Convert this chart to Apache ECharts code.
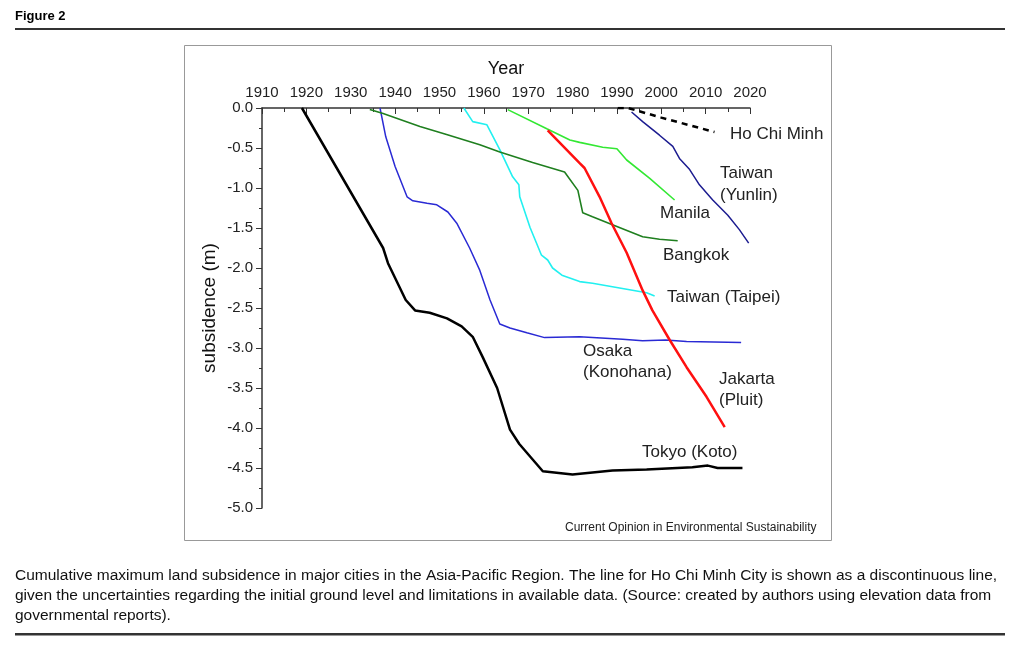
<!DOCTYPE html>
<html>
<head>
<meta charset="utf-8">
<script src="https://cdn.jsdelivr.net/npm/echarts@6/dist/echarts.min.js"></script>
<style>
  html, body { margin: 0; padding: 0; background: #fff; }
  #chart { width: 1024px; height: 660px; }
</style>
</head>
<body>
<div id="chart"></div>
<script>
// 年份刻度与 y 轴范围
const yearTicks = [1910, 1920, 1930, 1940, 1950, 1960, 1970, 1980, 1990, 2000, 2010, 2020]
const depthTicks = [0, -0.5, -1, -1.5, -2, -2.5, -3, -3.5, -4, -4.5, -5]

// 各城市累计沉降 [year, m]
const tokyo = [[1919, 0], [1937.3, -1.75], [1938.4, -1.94], [1942.4, -2.4], [1944.5, -2.53], [1947.8, -2.56],
  [1951.7, -2.63], [1955, -2.73], [1957.5, -2.86], [1959.8, -3.12], [1963, -3.5], [1965.9, -4.02], [1968, -4.2],
  [1973.3, -4.54], [1980, -4.58], [1989, -4.53], [1996.7, -4.52], [2007, -4.49], [2010.5, -4.47], [2012.7, -4.5], [2018.3, -4.5]]
const osaka = [[1936.6, 0], [1937.9, -0.36], [1940, -0.73], [1942.7, -1.11], [1944, -1.16], [1947.2, -1.19],
  [1949.4, -1.21], [1951.9, -1.3], [1953.9, -1.44], [1956.8, -1.75], [1959.1, -2.03], [1961.4, -2.4], [1963.6, -2.7],
  [1965.9, -2.75], [1969.7, -2.81], [1973.7, -2.87], [1981.6, -2.86], [1991.3, -2.89], [1995.8, -2.91],
  [2001, -2.9], [2005.7, -2.92], [2018, -2.93]]
const taipei = [[1955.5, 0], [1957.5, -0.17], [1960.7, -0.21], [1963.6, -0.52], [1966.5, -0.86], [1967.9, -0.96],
  [1968.1, -1.11], [1970.4, -1.49], [1973, -1.84], [1974.4, -1.9], [1975.5, -2.0], [1977.6, -2.09], [1981.6, -2.17],
  [1984.5, -2.19], [1990.6, -2.25], [1996.7, -2.31], [1998.5, -2.35]]
const bangkok = [[1934.3, -0.02], [1937.3, -0.07], [1945.6, -0.23], [1951.6, -0.33], [1959.1, -0.46], [1963.6, -0.55],
  [1971, -0.68], [1978.2, -0.8], [1981.2, -1.03], [1982.3, -1.31], [1984.5, -1.36], [1989, -1.46], [1995.8, -1.61],
  [1999.6, -1.64], [2003.7, -1.66]]
const manila = [[1965.4, -0.02], [1974.2, -0.26], [1979.4, -0.4], [1981.6, -0.43], [1986.8, -0.49], [1990, -0.51],
  [1992.2, -0.65], [1997.4, -0.88], [2003, -1.15]]
const jakarta = [[1974.4, -0.28], [1981.6, -0.69], [1982.7, -0.75], [1986.1, -1.11], [1988.8, -1.44], [1992.2, -1.81],
  [1995.8, -2.28], [1998, -2.53], [2001.9, -2.9], [2005.7, -3.24], [2010.2, -3.61], [2014.3, -3.99]]
const yunlin = [[1993.3, -0.05], [1995.8, -0.17], [1999.6, -0.34], [2002.6, -0.48], [2004.1, -0.63], [2006.4, -0.77],
  [2008.6, -0.96], [2011.6, -1.15], [2015, -1.34], [2017.6, -1.52], [2019.7, -1.69]]
const hoChiMinh = [[1990.2, 0], [1992.5, 0], [2000, -0.12], [2012, -0.3]]

const font = '"Liberation Sans", Arial, sans-serif'
const chart = echarts.init(document.getElementById('chart'), null, { renderer: 'canvas' })

function line(name, data, color, width, type) {
  return {
    name, type: 'line', data, showSymbol: false, symbol: 'none', smooth: false,
    lineStyle: { color, width, type: type || 'solid' }, z: 3,
  }
}

// 曲线旁的城市注记（x 为左边缘，y 为文字中线）
function label(text, x, y, size) {
  return {
    type: 'text', x, y,
    style: { text, font: `${size || 17}px ${font}`, fill: '#222', verticalAlign: 'middle' },
  }
}

chart.setOption({
  animation: false,
  grid: { left: 262, top: 108, width: 488, height: 400 },
  xAxis: {
    type: 'value', position: 'top', min: yearTicks[0], max: yearTicks[yearTicks.length - 1], interval: 10,
    name: 'Year', nameLocation: 'middle', nameGap: 30,
    nameTextStyle: { fontFamily: font, fontSize: 18, color: '#111' },
    axisLine: { show: true, onZero: false, lineStyle: { color: '#333', width: 1.5 } },
    axisTick: { show: true, inside: true, length: 6, lineStyle: { color: '#333' } },
    minorTick: { show: true, splitNumber: 2, length: 4, lineStyle: { color: '#333' } },
    axisLabel: { fontFamily: font, fontSize: 15, color: '#222', margin: 8, formatter: v => String(v) },
    splitLine: { show: false },
  },
  yAxis: {
    type: 'value', min: depthTicks[depthTicks.length - 1], max: depthTicks[0], interval: 0.5,
    name: 'subsidence (m)', nameLocation: 'middle', nameGap: 43, nameRotate: 90,
    nameTextStyle: { fontFamily: font, fontSize: 19, color: '#111' },
    axisLine: { show: true, onZero: false, lineStyle: { color: '#333', width: 1.5 } },
    axisTick: { show: true, inside: false, length: 6, lineStyle: { color: '#333' } },
    minorTick: { show: true, splitNumber: 2, length: 3, lineStyle: { color: '#333' } },
    axisLabel: { fontFamily: font, fontSize: 15, color: '#222', margin: 9, formatter: v => v.toFixed(1) },
    splitLine: { show: false },
  },
  series: [
    line('Tokyo (Koto)', tokyo, '#000000', 2.5),
    line('Osaka (Konohana)', osaka, '#2a2ad4', 1.5),
    line('Taiwan (Taipei)', taipei, '#22f0f0', 1.6),
    line('Bangkok', bangkok, '#1f7f1f', 1.6),
    line('Manila', manila, '#33e833', 1.6),
    line('Jakarta (Pluit)', jakarta, '#ff1010', 2.5),
    line('Taiwan (Yunlin)', yunlin, '#1c1c90', 1.5),
    line('Ho Chi Minh', hoChiMinh, '#000000', 2.5, [6, 5]),
  ],
  graphic: [
    { type: 'text', left: 15, top: 10, style: { text: 'Figure 2', font: `bold 13px ${font}`, fill: '#000' } },
    { type: 'rect', shape: { x: 15, y: 28, width: 990, height: 2 }, style: { fill: '#333' } },
    { type: 'rect', shape: { x: 184.5, y: 45.5, width: 647, height: 495 }, style: { fill: 'none', stroke: '#999', lineWidth: 1 } },
    label('Ho Chi Minh', 730, 134),
    label('Taiwan', 720, 173),
    label('(Yunlin)', 720, 195),
    label('Manila', 660, 213),
    label('Bangkok', 663, 255),
    label('Taiwan (Taipei)', 667, 297),
    label('Osaka', 583, 351),
    label('(Konohana)', 583, 372),
    label('Jakarta', 719, 379),
    label('(Pluit)', 719, 400),
    label('Tokyo (Koto)', 642, 452),
    label('Current Opinion in Environmental Sustainability', 565, 528, 12),
    { type: 'text', left: 15, top: 566, style: {
      text: 'Cumulative maximum land subsidence in major cities in the Asia-Pacific Region. The line for Ho Chi Minh City is shown as a discontinuous line,\ngiven the uncertainties regarding the initial ground level and limitations in available data. (Source: created by authors using elevation data from\ngovernmental reports).',
      font: `15.5px ${font}`, lineHeight: 20, fill: '#111' } },
    { type: 'rect', shape: { x: 15, y: 633, width: 990, height: 2.5 }, style: { fill: '#333' } },
  ],
})
</script>
</body>
</html>
